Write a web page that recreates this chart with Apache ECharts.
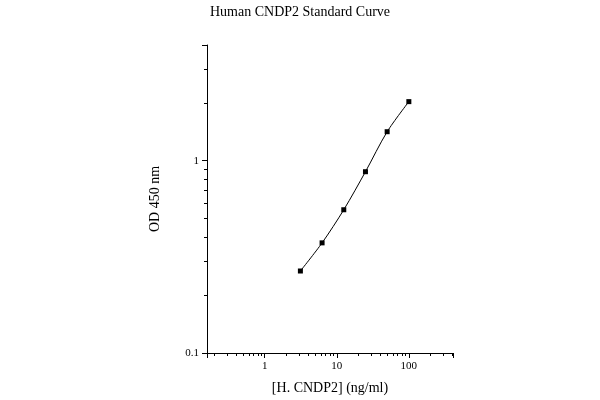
<!DOCTYPE html>
<html><head><meta charset="utf-8">
<script src="https://cdn.jsdelivr.net/npm/echarts@6/dist/echarts.min.js"></script>
<style>html,body{margin:0;padding:0;background:#fff}#c{width:600px;height:400px}</style>
</head><body><div id="c"></div>
<script>
const concentrations = [3.125, 6.25, 12.5, 25, 50, 100];
const odValues = [0.267, 0.374, 0.556, 0.877, 1.416, 2.03];
const xTickLabels = [1, 10, 100];
const yTickLabels = [0.1, 1];

const chart = echarts.init(document.getElementById('c'));
const font = 'Liberation Serif, Times New Roman, serif';
chart.setOption({
  animation: false,
  title: { text: 'Human CNDP2 Standard Curve', left: 'center', top: 0,
    textStyle: { fontFamily: font, fontSize: 14, fontWeight: 'normal', color: '#000' } },
  grid: { left: 207, right: 147, top: 45, bottom: 47 },
  xAxis: {
    type: 'log', logBase: 10, min: 0.158, max: 410,
    name: '[H. CNDP2] (ng/ml)', nameLocation: 'middle', nameGap: 28,
    nameTextStyle: { fontFamily: font, fontSize: 14, color: '#000' },
    axisLine: { lineStyle: { color: '#000', width: 1 } },
    axisTick: { show: true, length: 5, inside: false, lineStyle: { color: '#000' } },
    minorTick: { show: true, splitNumber: 9, length: 3, lineStyle: { color: '#000' } },
    splitLine: { show: false },
    axisLabel: { fontFamily: font, fontSize: 11, color: '#000',
      formatter: v => xTickLabels.some(t => Math.abs(t - v) / t < 1e-6) ? String(v) : '' }
  },
  yAxis: {
    type: 'log', logBase: 10, min: 0.1, max: 4,
    name: 'OD 450 nm', nameLocation: 'middle', nameGap: 45,
    nameTextStyle: { fontFamily: font, fontSize: 14, color: '#000' },
    axisLine: { show: true, lineStyle: { color: '#000', width: 1 } },
    axisTick: { show: true, length: 5, lineStyle: { color: '#000' } },
    minorTick: { show: true, splitNumber: 9, length: 3, lineStyle: { color: '#000' } },
    splitLine: { show: false },
    axisLabel: { fontFamily: font, fontSize: 11, color: '#000',
      formatter: v => yTickLabels.some(t => Math.abs(t - v) / t < 1e-6) ? String(v) : '' }
  },
  series: [{
    type: 'line', smooth: 0.3,
    data: concentrations.map((c, i) => [c, odValues[i]]),
    symbol: 'rect', symbolSize: 5,
    itemStyle: { color: '#000' },
    lineStyle: { color: '#000', width: 1 }
  }]
});
</script></body></html>
